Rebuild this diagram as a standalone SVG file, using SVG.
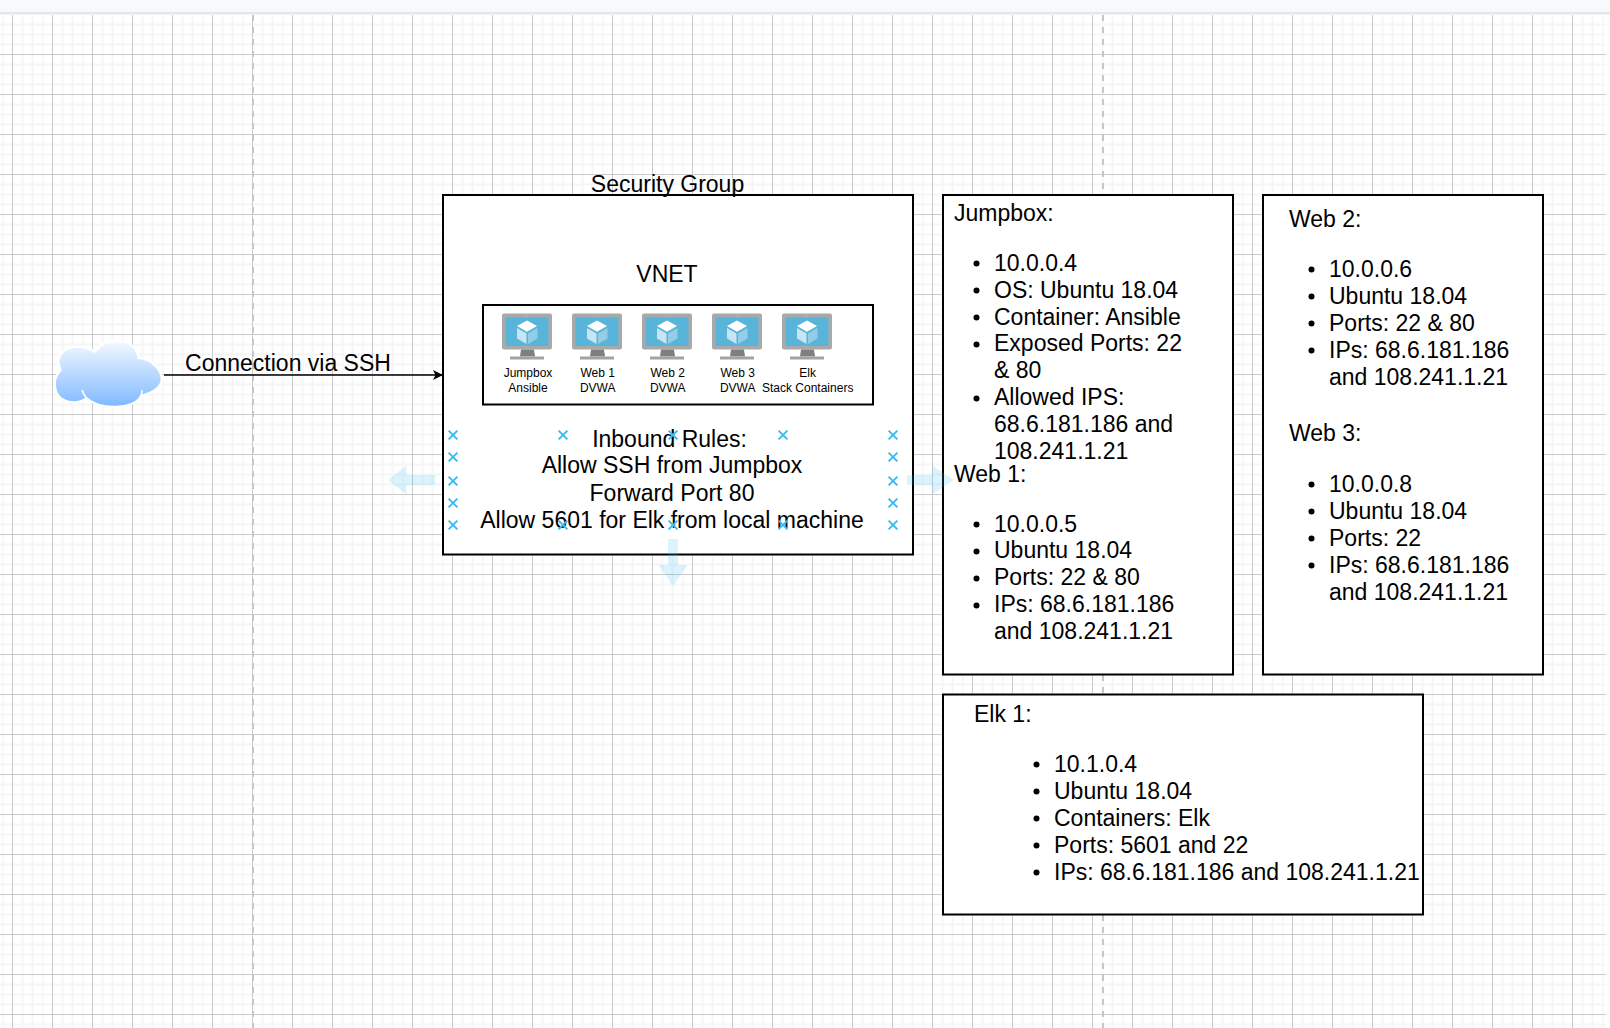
<svg xmlns="http://www.w3.org/2000/svg" xmlns:xlink="http://www.w3.org/1999/xlink" width="1610" height="1028" viewBox="0 0 1610 1028">
<style>
text{font-family:"Liberation Sans",Arial,Helvetica,sans-serif;fill:#000}
.t{font-size:23px}
.m{text-anchor:middle}
.s{font-size:12px;text-anchor:middle}
.box{fill:#fff;stroke:#000;stroke-width:2}
.brk{stroke:#c6c6c6;stroke-width:2;stroke-dasharray:6 6;fill:none}
.x{stroke:#3cbcf0;stroke-width:2;fill:none}
.hint{fill:#29b6f2;fill-opacity:.17}
.bu{fill:#000}
.conn{stroke:#000;stroke-width:1.5;fill:none}
</style>
<defs>
<pattern id="grid" patternUnits="userSpaceOnUse" x="2" y="14" width="40" height="40">
<rect width="40" height="40" fill="#fff"/>
<path d="M0 10.5H40M0 20.5H40M0 30.5H40M.5 0V40M20.5 0V40M30.5 0V40" stroke="#f6f6f6" stroke-width="2" fill="none"/>
<rect x="10" y="0" width="1" height="40" fill="#cacaca"/>
<rect x="0" y="0" width="40" height="1" fill="#cacaca"/>
</pattern>
<linearGradient id="cg" x1="0" y1="0" x2="0" y2="1">
<stop offset="0" stop-color="#f4f9ff"/>
<stop offset="1" stop-color="#7fb9ff"/>
</linearGradient>
<g id="vm">
<rect x="0" y="0" width="50" height="36" rx="2" fill="#a9a9a9"/>
<rect x="3.5" y="4" width="43" height="28.5" fill="#59b4d9"/>
<path d="M19 36H32L33 43H18Z" fill="#7f7f7f"/>
<rect x="8" y="43" width="34" height="3" fill="#a3a3a3"/>
<circle cx="25" cy="2" r=".8" fill="#b8d432"/>
<path d="M25 7L35 12.5L25 18.3L15 12.5Z" fill="#fff"/>
<path d="M15 14.5L24.5 20V30.5L15 25Z" fill="#c7e5f2"/>
<path d="M35.5 14.5L26 20V30.5L35.5 25Z" fill="#93cde6"/>
</g>
<path id="xm" d="M-4.4-4.4L4.4 4.4M-4.4 4.4L4.4-4.4" class="x"/>
<marker id="ah" markerWidth="12" markerHeight="12" refX="10" refY="5" orient="auto" markerUnits="userSpaceOnUse">
<path d="M0 0L10 5L0 10L2.5 5Z" fill="#000"/>
</marker>
</defs>

<rect width="1610" height="1028" fill="#fff"/>
<rect x="0" y="15" width="1606" height="1013" fill="url(#grid)"/>
<rect x="0" y="0" width="1610" height="13" fill="#f8f9fb"/>
<rect x="0" y="12.5" width="1610" height="1" fill="#cfd1d3"/>
<rect x="0" y="13.5" width="1610" height="1" fill="#e6e7e8"/>
<path class="brk" d="M253 15V1028M1103 15V1028"/>

<g id="cloud">
<path d="M60.7 370C54 358 64 346 78 346.7C84 347 90 349 95 351.7C101 339 128 337 136 350C138 353 138.5 355 138.3 358.3C152 358 163 372 161.5 381C160 389 151 393 141 396C134 410 100 410 86.7 398.3C76 405 60 403 56 391C53 382 55 376 60.7 370Z" fill="url(#cg)" stroke="#fff" stroke-width="2"/>
<path d="M86.7 398.3C84 395 83 393 82 390M141 396C142 394 142 392 142 390M138.3 358.3C138 356 137.5 354 136 351M95 351.7C97 350 98 349 100 348M60.7 370C60 368 60 366 59 364" stroke="#fff" stroke-width="1.6" fill="none"/>
</g>

<g id="security-group">
<rect class="box" x="443" y="195" width="470" height="359.5"/>
<text class="t m" x="667.5" y="191.5">Security Group</text>
<text class="t m" x="667" y="282">VNET</text>
</g>

<g id="vnet">
<rect class="box" x="483" y="305" width="390" height="99.5"/>
</g>

<g id="vm-jumpbox"><use xlink:href="#vm" href="#vm" x="502" y="313.5"/><text class="s" x="528" y="377">Jumpbox</text><text class="s" x="528" y="391.7">Ansible</text></g>
<g id="vm-web1"><use xlink:href="#vm" href="#vm" x="572" y="313.5"/><text class="s" x="597.7" y="377">Web 1</text><text class="s" x="597.7" y="391.7">DVWA</text></g>
<g id="vm-web2"><use xlink:href="#vm" href="#vm" x="642" y="313.5"/><text class="s" x="667.7" y="377">Web 2</text><text class="s" x="667.7" y="391.7">DVWA</text></g>
<g id="vm-web3"><use xlink:href="#vm" href="#vm" x="712" y="313.5"/><text class="s" x="737.7" y="377">Web 3</text><text class="s" x="737.7" y="391.7">DVWA</text></g>
<g id="vm-elk"><use xlink:href="#vm" href="#vm" x="782" y="313.5"/><text class="s" x="807.7" y="377">Elk</text><text class="s" x="807.7" y="391.7">Stack Containers</text></g>

<g id="connectors">
<path class="conn" d="M164 375H443" marker-end="url(#ah)"/>
<text class="t m" x="288" y="370.5">Connection via SSH</text>
</g>

<g id="inbound-rules">
<text class="t m" x="669.5" y="446.5">Inbound Rules:</text>
<text class="t m" x="672" y="473.3">Allow SSH from Jumpbox</text>
<text class="t m" x="672" y="500.5">Forward Port 80</text>
<text class="t m" x="672" y="527.5">Allow 5601 for Elk from local machine</text>
</g>

<g id="jumpbox-web1">
<rect class="box" x="943" y="195" width="290" height="479.5"/>
<text class="t" x="954" y="221">Jumpbox:</text>
<circle class="bu" cx="976.5" cy="263.5" r="3"/><text class="t" x="994" y="271">10.0.0.4</text>
<circle class="bu" cx="976.5" cy="290.5" r="3"/><text class="t" x="994" y="298">OS: Ubuntu 18.04</text>
<circle class="bu" cx="976.5" cy="317.5" r="3"/><text class="t" x="994" y="324.6">Container: Ansible</text>
<circle class="bu" cx="976.5" cy="344.5" r="3"/><text class="t" x="994" y="351.4">Exposed Ports: 22</text>
<text class="t" x="994" y="378.2">&amp; 80</text>
<circle class="bu" cx="976.5" cy="398.5" r="3"/><text class="t" x="994" y="405">Allowed IPS:</text>
<text class="t" x="994" y="431.8">68.6.181.186 and</text>
<text class="t" x="994" y="459.3">108.241.1.21</text>
<text class="t" x="954" y="481.5">Web 1:</text>
<circle class="bu" cx="976.5" cy="524.5" r="3"/><text class="t" x="994" y="531.5">10.0.0.5</text>
<circle class="bu" cx="976.5" cy="551.5" r="3"/><text class="t" x="994" y="558.3">Ubuntu 18.04</text>
<circle class="bu" cx="976.5" cy="578.5" r="3"/><text class="t" x="994" y="585.2">Ports: 22 &amp; 80</text>
<circle class="bu" cx="976.5" cy="605.5" r="3"/><text class="t" x="994" y="612">IPs: 68.6.181.186</text>
<text class="t" x="994" y="638.8">and 108.241.1.21</text>
</g>

<g id="web2-web3">
<rect class="box" x="1263" y="195" width="280" height="479.5"/>
<text class="t" x="1289" y="226.5">Web 2:</text>
<circle class="bu" cx="1311.5" cy="269.5" r="3"/><text class="t" x="1329" y="277">10.0.0.6</text>
<circle class="bu" cx="1311.5" cy="296.5" r="3"/><text class="t" x="1329" y="304">Ubuntu 18.04</text>
<circle class="bu" cx="1311.5" cy="323.5" r="3"/><text class="t" x="1329" y="331">Ports: 22 &amp; 80</text>
<circle class="bu" cx="1311.5" cy="350.5" r="3"/><text class="t" x="1329" y="358">IPs: 68.6.181.186</text>
<text class="t" x="1329" y="384.5">and 108.241.1.21</text>
<text class="t" x="1289" y="441.3">Web 3:</text>
<circle class="bu" cx="1311.5" cy="484.5" r="3"/><text class="t" x="1329" y="491.7">10.0.0.8</text>
<circle class="bu" cx="1311.5" cy="511.5" r="3"/><text class="t" x="1329" y="518.5">Ubuntu 18.04</text>
<circle class="bu" cx="1311.5" cy="538.5" r="3"/><text class="t" x="1329" y="545.7">Ports: 22</text>
<circle class="bu" cx="1311.5" cy="565.5" r="3"/><text class="t" x="1329" y="572.7">IPs: 68.6.181.186</text>
<text class="t" x="1329" y="599.7">and 108.241.1.21</text>
</g>

<g id="elk1">
<rect class="box" x="943" y="694.5" width="480" height="220"/>
<text class="t" x="974" y="721.5">Elk 1:</text>
<circle class="bu" cx="1036.5" cy="764.5" r="3"/><text class="t" x="1054" y="771.7">10.1.0.4</text>
<circle class="bu" cx="1036.5" cy="791.5" r="3"/><text class="t" x="1054" y="798.5">Ubuntu 18.04</text>
<circle class="bu" cx="1036.5" cy="818.5" r="3"/><text class="t" x="1054" y="825.7">Containers: Elk</text>
<circle class="bu" cx="1036.5" cy="845.5" r="3"/><text class="t" x="1054" y="852.7">Ports: 5601 and 22</text>
<circle class="bu" cx="1036.5" cy="872.5" r="3"/><text class="t" x="1054" y="879.5">IPs: 68.6.181.186 and 108.241.1.21</text>
</g>

<g id="connection-points">
<use xlink:href="#xm" href="#xm" x="453" y="435"/><use xlink:href="#xm" href="#xm" x="453" y="457"/><use xlink:href="#xm" href="#xm" x="453" y="481"/><use xlink:href="#xm" href="#xm" x="453" y="503"/><use xlink:href="#xm" href="#xm" x="453" y="525"/>
<use xlink:href="#xm" href="#xm" x="893" y="435"/><use xlink:href="#xm" href="#xm" x="893" y="457"/><use xlink:href="#xm" href="#xm" x="893" y="481"/><use xlink:href="#xm" href="#xm" x="893" y="503"/><use xlink:href="#xm" href="#xm" x="893" y="525"/>
<use xlink:href="#xm" href="#xm" x="563" y="435"/><use xlink:href="#xm" href="#xm" x="673" y="435"/><use xlink:href="#xm" href="#xm" x="783" y="435"/>
<use xlink:href="#xm" href="#xm" x="563" y="525"/><use xlink:href="#xm" href="#xm" x="673" y="525"/><use xlink:href="#xm" href="#xm" x="783" y="525"/>
</g>

<g id="hover-arrows">
<path class="hint" d="M388 480L406.5 465.5V475H435V485H406.5V494.5Z"/>
<path class="hint" d="M954 480L932 465.5V475H907V485H932V494.5Z"/>
<path class="hint" d="M673 586L658.5 565H668V539H678V565H687.5Z"/>
</g>
</svg>
